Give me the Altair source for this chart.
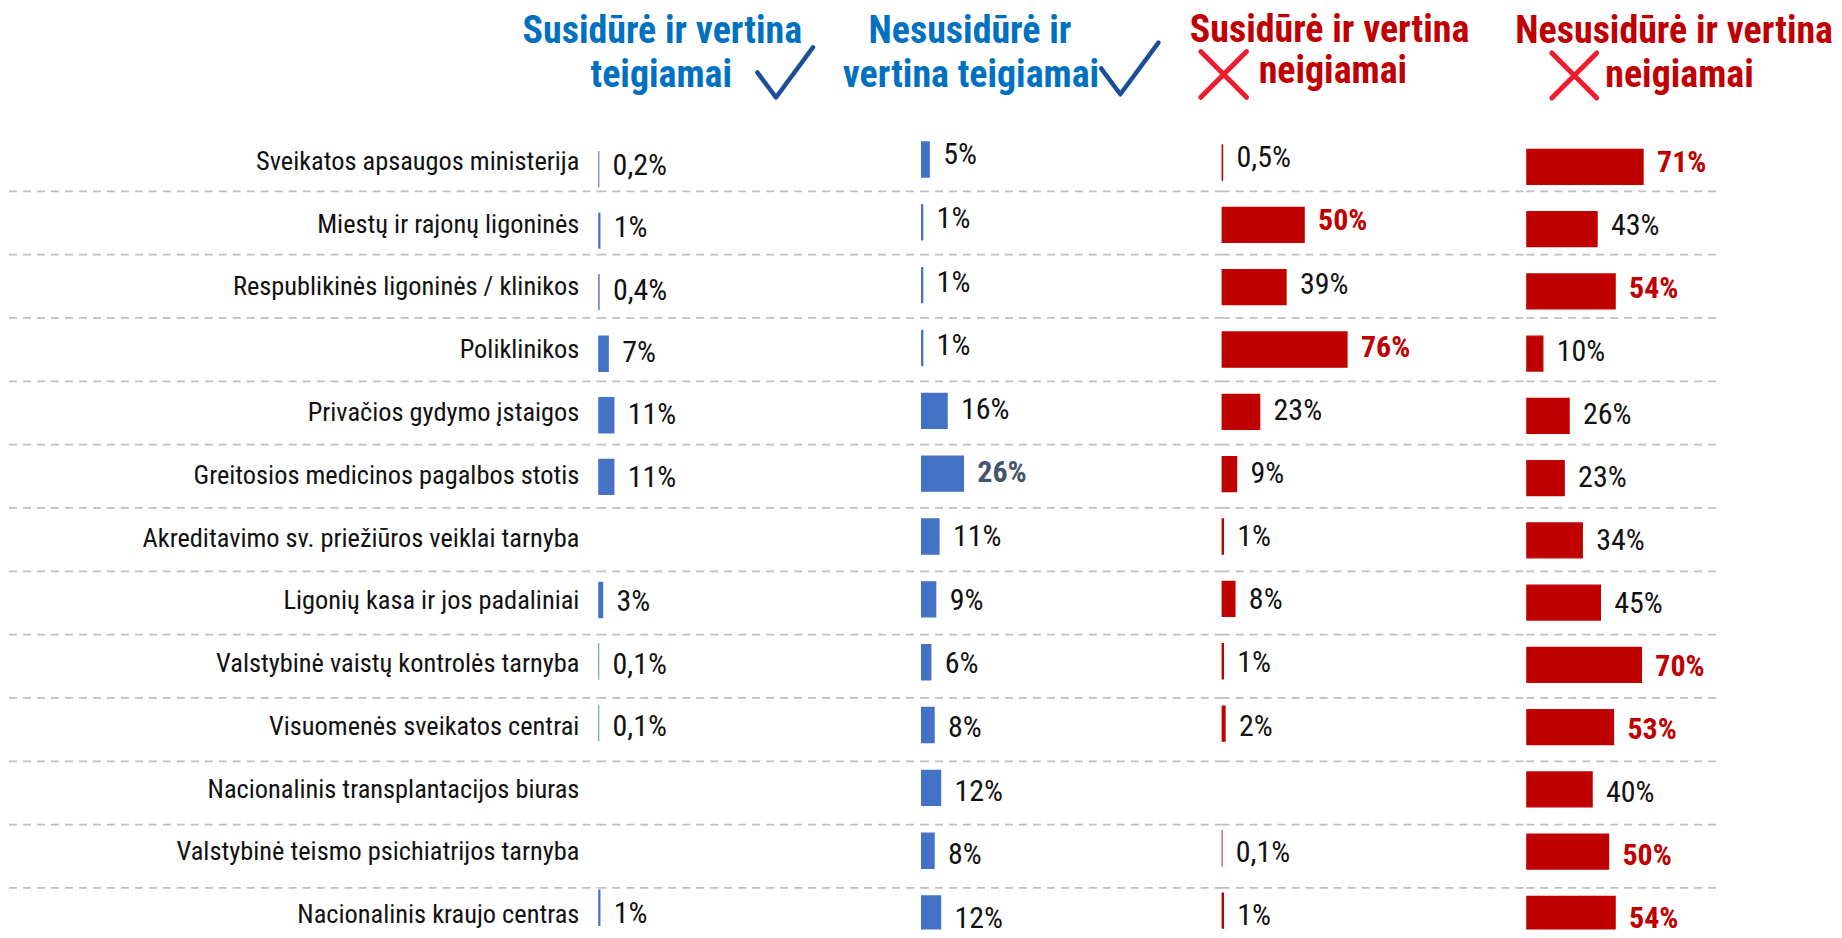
import altair as alt
import pandas as pd

# ---------------- data ----------------
categories = [
    "Sveikatos apsaugos ministerija",
    "Miestų ir rajonų ligoninės",
    "Respublikinės ligoninės / klinikos",
    "Poliklinikos",
    "Privačios gydymo įstaigos",
    "Greitosios medicinos pagalbos stotis",
    "Akreditavimo sv. priežiūros veiklai tarnyba",
    "Ligonių kasa ir jos padaliniai",
    "Valstybinė vaistų kontrolės tarnyba",
    "Visuomenės sveikatos centrai",
    "Nacionalinis transplantacijos biuras",
    "Valstybinė teismo psichiatrijos tarnyba",
    "Nacionalinis kraujo centras",
]
header_lines = [
    ["Susidūrė ir vertina", "teigiamai"],
    ["Nesusidūrė ir", "vertina teigiamai"],
    ["Susidūrė ir vertina", "neigiamai"],
    ["Nesusidūrė ir vertina", "neigiamai"],
]
pos_met = [0.2, 1, 0.4, 7, 11, 11, None, 3, 0.1, 0.1, None, None, 1]
pos_notmet = [5, 1, 1, 1, 16, 26, 11, 9, 6, 8, 12, 8, 12]
neg_met = [0.5, 50, 39, 76, 23, 9, 1, 8, 1, 2, None, 0.1, 1]
neg_notmet = [71, 43, 54, 10, 26, 23, 34, 45, 70, 53, 40, 50, 54]

# ---------------- style ----------------
FONT = "Roboto Condensed"
LABEL_SIZE = 26.4
VALUE_SIZE = 30
HEAD_SIZE = 38
BLUE = "#4472C4"
RED = "#C00000"
HEAD_BLUE = "#0070C0"
HEAD_RED = "#C00000"
CHECK_COL = "#1B4F9C"
X_COL = "#EE1C2E"
TXT = "#111111"
SLATE = "#44546A"

HEAD_H = 120
BODY_TOP = 8 + HEAD_H          # page y of body top
BODY_H = 802
LABEL_W = 590
PANEL_W = [323, 301, 305, 193]
PX_PER_PCT = [1.4, 1.63, 1.65, 1.645]
# (page y of first row centre, row pitch) for gridlines, labels and each column
GRID_ROWS = (159.3, 63.4)
LABEL_ROWS = (161.5, 62.85)
COL_ROWS = [(164.2, 62.4), (154.5, 63.7), (157.5, 63.2), (162.0, 63.1)]
TEXT_DY = [1.5, 0.5, 0.5, 0.5]

n = len(categories)


def yscale(rows):
    r0, pitch = rows
    d0 = -(r0 - BODY_TOP) / pitch
    return alt.Scale(domain=[d0, d0 + BODY_H / pitch], reverse=True, nice=False, zero=False)


def fmt(v):
    return f"{v:g}".replace(".", ",") + "%"


df_grid = pd.DataFrame({"b": [i + 0.5 for i in range(n - 1)]})


def grid_layer(w):
    return alt.Chart(df_grid).mark_rule(
        color="#BFBFBF", strokeWidth=1.8, strokeDash=[8, 6]
    ).encode(
        y=alt.Y("b:Q", scale=yscale(GRID_ROWS), axis=None),
        x=alt.value(0), x2=alt.value(w),
    )


# label panel
df_lab = pd.DataFrame({"row": list(range(n)), "name": categories})
label_text = alt.Chart(df_lab).mark_text(
    align="right", baseline="middle", font=FONT, fontSize=LABEL_SIZE, color=TXT
).encode(
    y=alt.Y("row:Q", scale=yscale(LABEL_ROWS), axis=None),
    x=alt.value(LABEL_W - 19),
    text="name:N",
)
label_panel = alt.layer(grid_layer(LABEL_W), label_text).resolve_scale(
    y="independent"
).properties(width=LABEL_W, height=BODY_H)


def panel(values, idx, color, emph, emph_color):
    rows = [i for i, v in enumerate(values) if v is not None]
    df = pd.DataFrame({
        "row": rows,
        "v": [values[i] for i in rows],
        "label": [fmt(values[i]) for i in rows],
        "emph": [bool(emph[i]) for i in rows],
    })
    w = PANEL_W[idx]
    x = alt.X("v:Q", scale=alt.Scale(domain=[0, w / PX_PER_PCT[idx]], nice=False, zero=True), axis=None)
    y = alt.Y("row:Q", scale=yscale(COL_ROWS[idx]), axis=None)
    base = alt.Chart(df)
    bars = base.mark_bar(
        color=color, stroke=color, strokeWidth=1.4, size=35, orient="horizontal", clip=True,
    ).encode(x=x, y=y)
    txt_norm = base.transform_filter("!datum.emph").mark_text(
        align="left", baseline="middle", dx=14, dy=TEXT_DY[idx], font=FONT,
        fontSize=VALUE_SIZE, color=TXT, clip=True,
    ).encode(x=x, y=y, text="label:N")
    txt_emph = base.transform_filter("datum.emph").mark_text(
        align="left", baseline="middle", dx=14, dy=TEXT_DY[idx], font=FONT,
        fontSize=VALUE_SIZE, fontWeight="bold", color=emph_color, clip=True,
    ).encode(x=x, y=y, text="label:N")
    return alt.layer(grid_layer(w), bars, txt_norm, txt_emph).resolve_scale(
        y="independent"
    ).properties(width=w, height=BODY_H)


mx2 = max(pos_notmet)
p1 = panel(pos_met, 0, BLUE, [False] * n, TXT)
p2 = panel(pos_notmet, 1, BLUE, [v == mx2 for v in pos_notmet], SLATE)
p3 = panel(neg_met, 2, RED, [(v or 0) >= 50 for v in neg_met], RED)
p4 = panel(neg_notmet, 3, RED, [(v or 0) >= 50 for v in neg_notmet], RED)

body = alt.hconcat(label_panel, p1, p2, p3, p4, spacing=0, bounds="flush").resolve_scale(
    x="independent", y="independent"
)

# ---------------- header ----------------
# page-coordinate anchor positions for header pieces (8px page margin removed below)
HEAD_POS = [
    [(662, 32, "center"), (661, 76, "center")],
    [(970, 32, "center"), (971, 76, "center")],
    [(1330, 31, "center"), (1259, 72, "left")],
    [(1675, 32, "center"), (1606, 76, "left")],
]
HEAD_COL = [HEAD_BLUE, HEAD_BLUE, HEAD_RED, HEAD_RED]
CHECK_PATH = "M -1 0 L -0.33 0.9 L 1 -0.9"
X_PATH = "M -0.85 -0.85 L 0.85 0.85 M 0.85 -0.85 L -0.85 0.85"
ICONS = [
    (CHECK_PATH, 785, 72, 3100, CHECK_COL, 4.5),
    (CHECK_PATH, 1130, 68, 3300, CHECK_COL, 4.5),
    (X_PATH, 1224, 74, 2900, X_COL, 5),
    (X_PATH, 1575, 75, 2800, X_COL, 5),
]

head_layers = []
for lines, poss, col in zip(header_lines, HEAD_POS, HEAD_COL):
    for line, (px, py, al) in zip(lines, poss):
        head_layers.append(
            alt.Chart(pd.DataFrame({"t": [line]})).mark_text(
                font=FONT, fontSize=HEAD_SIZE, fontWeight="bold", color=col,
                align=al, baseline="middle",
            ).encode(x=alt.value(px - 8), y=alt.value(py - 8), text="t:N")
        )
for path, px, py, size, col, sw in ICONS:
    head_layers.append(
        alt.Chart(pd.DataFrame({"icon": [1]})).mark_point(
            shape=path, filled=False, stroke=col, strokeWidth=sw, size=size,
            strokeCap="round", strokeJoin="round", opacity=1,
        ).encode(x=alt.value(px - 8), y=alt.value(py - 8))
    )
header = alt.layer(*head_layers).properties(width=1826, height=HEAD_H)

chart = alt.vconcat(header, body, spacing=0, bounds="flush").properties(
    padding=0
).configure(background="white", view=alt.ViewConfig(strokeWidth=0, stroke="transparent"))

chart.save("out.html", embed_options={"renderer": "svg", "actions": False})
